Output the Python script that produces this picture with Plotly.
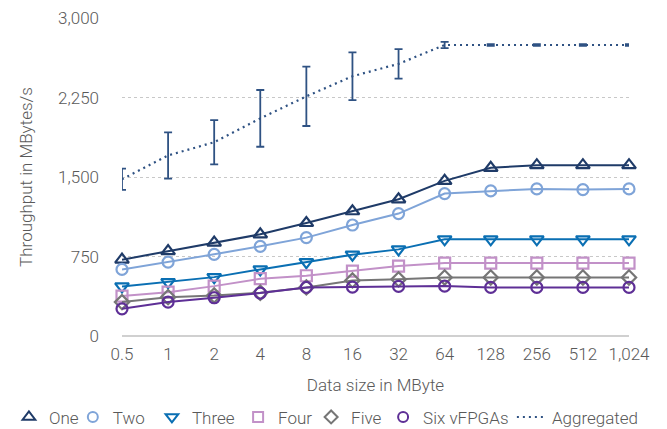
import plotly.graph_objects as go

sizes = ["0.5", "1", "2", "4", "8", "16", "32", "64", "128", "256", "512", "1,024"]

one = [721, 802, 882, 960, 1067, 1178, 1291, 1465, 1588, 1613, 1613, 1613]
two = [629, 698, 771, 847, 929, 1048, 1156, 1345, 1370, 1389, 1383, 1389]
three = [468, 509, 556, 629, 698, 768, 818, 913, 913, 913, 913, 913]
four = [377, 414, 471, 541, 569, 613, 660, 689, 689, 689, 689, 689]
five = [320, 367, 383, 409, 459, 525, 535, 553, 553, 553, 553, 553]
six = [257, 320, 361, 405, 459, 462, 468, 471, 459, 459, 459, 459]
aggregated = [1480, 1705, 1830, 2055, 2263, 2453, 2570, 2748, 2748, 2748, 2748, 2748]
aggregated_err = [100, 218, 209, 268, 280, 225, 140, 30, 8, 8, 8, 8]
y_ticks = [0, 750, 1500, 2250, 3000]

x_idx = list(range(len(sizes)))

series = [
    ("One", one, "#1f3b68", "triangle-up-open", 12),
    ("Two", two, "#7fa4d8", "circle-open", 11),
    ("Three", three, "#0a6fb3", "triangle-down-open", 12),
    ("Four", four, "#c291c8", "square-open", 11),
    ("Five", five, "#767676", "diamond-open", 11),
    ("Six vFPGAs", six, "#5e2f96", "circle-open", 11),
]
agg_col = "#2f5283"

# left edge (fraction of plot area) of each legend entry
legend_x = [-0.223, -0.097, 0.059, 0.229, 0.373, 0.515, 0.769]
legend_y = -0.256

font_family = "Roboto, Liberation Sans, sans-serif"
text_col = "#595959"
FS = 17

fig = go.Figure()

fig.add_trace(go.Scatter(
    x=x_idx, y=aggregated, mode="lines", name="Aggregated",
    line=dict(color=agg_col, width=2.2, dash="2px,4px"),
    error_y=dict(type="data", array=aggregated_err, visible=True,
                 color=agg_col, thickness=1.8, width=4),
    cliponaxis=False, showlegend=False,
))

for name, vals, col, sym, sz in series:
    fig.add_trace(go.Scatter(
        x=x_idx, y=vals, mode="lines+markers", name=name,
        line=dict(color=col, width=2),
        marker=dict(symbol=sym, size=sz, color=col, line=dict(width=2.2, color=col)),
        cliponaxis=False, showlegend=False,
    ))

legend_layout = {}
def leg(i):
    return dict(x=legend_x[i], xanchor="left", y=legend_y, yanchor="middle",
                orientation="h", bgcolor="rgba(0,0,0,0)",
                font=dict(size=FS, color=text_col), itemwidth=30,
                itemclick=False)

for i, (name, vals, col, sym, sz) in enumerate(series):
    key = "legend" if i == 0 else f"legend{i + 1}"
    fig.add_trace(go.Scatter(
        x=[None], y=[None], mode="markers", name=name, legend=key,
        marker=dict(symbol=sym, size=sz - 1, color=col, line=dict(width=2, color=col)),
    ))
    legend_layout[key] = leg(i)
fig.add_trace(go.Scatter(
    x=[None], y=[None], mode="lines", name="Aggregated", legend="legend7",
    line=dict(color=agg_col, width=2, dash="2px,4px"),
))
legend_layout["legend7"] = leg(6)

fig.update_layout(
    width=659, height=421,
    margin=dict(l=114, r=38, t=10, b=93, autoexpand=False),
    paper_bgcolor="white", plot_bgcolor="white",
    font=dict(family=font_family, size=FS, color=text_col, weight=300),
    showlegend=True,
    **legend_layout,
)

fig.update_xaxes(
    range=[0, 11], tickmode="array", tickvals=x_idx, ticktext=sizes,
    showgrid=False, zeroline=False, showline=False, ticks="",
    ticklabelstandoff=6,
    title=dict(text="Data size in MByte", standoff=16, font=dict(size=FS, color=text_col)),
    tickfont=dict(size=FS, color=text_col),
)

fig.update_yaxes(
    range=[0, 3003], tickmode="array", tickvals=y_ticks,
    tickformat=",", showgrid=True, gridcolor="#c8c8c8", griddash="dot", gridwidth=1,
    zeroline=True, zerolinecolor="#d0d0d0", zerolinewidth=2,
    showline=False, ticks="", ticklabelstandoff=22,
    title=dict(text="Throughput in MBytes/s", standoff=21, font=dict(size=FS, color=text_col)),
    tickfont=dict(size=FS, color=text_col),
)

fig.write_html("out.html")
